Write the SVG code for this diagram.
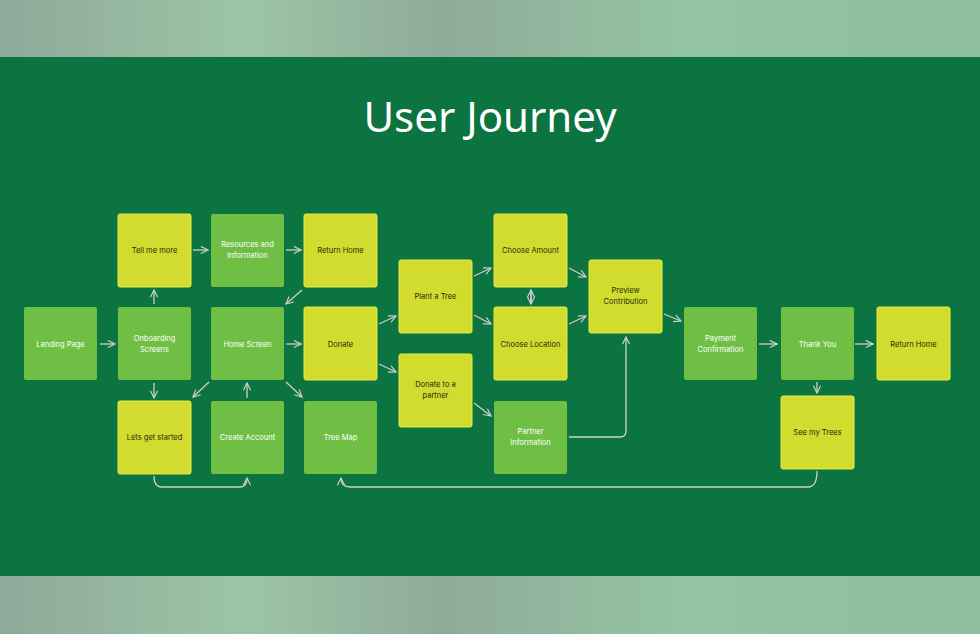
<svg xmlns="http://www.w3.org/2000/svg" width="980" height="634" viewBox="0 0 980 634">
<defs>
<linearGradient id="bg" x1="0" x2="1" y1="0" y2="0"><stop offset="0" stop-color="#8fa99a"/><stop offset="0.25" stop-color="#9cc5a6"/><stop offset="0.45" stop-color="#8fab9a"/><stop offset="0.7" stop-color="#94c4a2"/><stop offset="1" stop-color="#8dbf9d"/></linearGradient>
<marker id="ah" viewBox="0 0 10 10" refX="9" refY="5" markerWidth="9" markerHeight="9" markerUnits="userSpaceOnUse" orient="auto-start-reverse"><path d="M1,1 L9,5 L1,9" fill="none" stroke="#cfcfcf" stroke-width="1.3"/></marker>
<style>
.g{fill:#70bf45}.y{fill:#d2dc2e;stroke:#e4ec40;stroke-width:1}
text{font-family:Inter,"Liberation Sans",sans-serif;font-size:7.5px;text-anchor:middle}
.g+text{fill:#ffffff}.y+text{fill:#1f2a10}
#c path{fill:none;stroke:#cfcfcf;stroke-width:1.3;marker-end:url(#ah)}
</style>
</defs>
<rect width="980" height="634" fill="url(#bg)"/>
<rect y="57" width="980" height="519" fill="#0b7440"/>
<text x="490" y="132" style="font-size:42px;fill:#fff;font-family:'Noto Sans',Lato,sans-serif">User Journey</text>
<g id="c">
<path d="M100,344H115"/><path d="M154,304V290"/><path d="M154,383V398"/><path d="M193,250H208"/><path d="M286,250H301"/>
<path d="M302,290L286,304"/><path d="M286,344H301"/><path d="M209,382L193,397"/><path d="M247,398V383"/><path d="M286,382L302,397"/>
<path d="M379,324L396,316"/><path d="M379,364L396,372"/><path d="M474,276L491,268"/><path d="M474,315L491,324"/>
<path d="M531,290V304"/><path d="M531,304V290"/>
<path d="M569,268L586,277"/><path d="M569,324L586,316"/><path d="M474,403L491,416"/>
<path d="M664,314L681,321"/><path d="M569,437H620Q626,437 626,431V337"/>
<path d="M759,344H777"/><path d="M855,344H873"/><path d="M817,382V393"/>
<path d="M154,476Q154,487 162,487H240Q247,487 247,478"/>
<path d="M817,471Q817,487 808,487H350Q341,487 341,478"/>
</g>
<g id="n1"><rect class="g" x="24" y="307" width="73" height="73" rx="2"/><text x="60.5" y="346.5">Landing Page</text></g>
<g id="n2"><rect class="g" x="118" y="307" width="73" height="73" rx="2"/><text x="154.5" y="341">Onboarding<tspan x="154.5" dy="11">Screens</tspan></text></g>
<g id="n3"><rect class="y" x="118" y="214" width="73" height="73" rx="2"/><text x="154.5" y="252.5">Tell me more</text></g>
<g id="n4"><rect class="g" x="211" y="214" width="73" height="73" rx="2"/><text x="247.5" y="247">Resources and<tspan x="247.5" dy="11">Information</tspan></text></g>
<g id="n5"><rect class="y" x="304" y="214" width="73" height="73" rx="2"/><text x="340.5" y="252.5">Return Home</text></g>
<g id="n6"><rect class="g" x="211" y="307" width="73" height="73" rx="2"/><text x="247.5" y="346.5">Home Screen</text></g>
<g id="n7"><rect class="y" x="304" y="307" width="73" height="73" rx="2"/><text x="340.5" y="346.5">Donate</text></g>
<g id="n8"><rect class="y" x="118" y="401" width="73" height="73" rx="2"/><text x="154.5" y="440">Lets get started</text></g>
<g id="n9"><rect class="g" x="211" y="401" width="73" height="73" rx="2"/><text x="247.5" y="440">Create Account</text></g>
<g id="n10"><rect class="g" x="304" y="401" width="73" height="73" rx="2"/><text x="340.5" y="440">Tree Map</text></g>
<g id="n11"><rect class="y" x="399" y="260" width="73" height="73" rx="2"/><text x="435.5" y="299">Plant a Tree</text></g>
<g id="n12"><rect class="y" x="399" y="354" width="73" height="73" rx="2"/><text x="435.5" y="387">Donate to a<tspan x="435.5" dy="11">partner</tspan></text></g>
<g id="n13"><rect class="y" x="494" y="214" width="73" height="73" rx="2"/><text x="530.5" y="252.5">Choose Amount</text></g>
<g id="n14"><rect class="y" x="494" y="307" width="73" height="73" rx="2"/><text x="530.5" y="346.5">Choose Location</text></g>
<g id="n15"><rect class="g" x="494" y="401" width="73" height="73" rx="2"/><text x="530.5" y="434">Partner<tspan x="530.5" dy="11">Information</tspan></text></g>
<g id="n16"><rect class="y" x="589" y="260" width="73" height="73" rx="2"/><text x="625.5" y="293">Preview<tspan x="625.5" dy="11">Contribution</tspan></text></g>
<g id="n17"><rect class="g" x="684" y="307" width="73" height="73" rx="2"/><text x="720.5" y="341">Payment<tspan x="720.5" dy="11">Confirmation</tspan></text></g>
<g id="n18"><rect class="g" x="781" y="307" width="73" height="73" rx="2"/><text x="817.5" y="346.5">Thank You</text></g>
<g id="n19"><rect class="y" x="877" y="307" width="73" height="73" rx="2"/><text x="913.5" y="346.5">Return Home</text></g>
<g id="n20"><rect class="y" x="781" y="396" width="73" height="73" rx="2"/><text x="817.5" y="435">See my Trees</text></g>
</svg>
